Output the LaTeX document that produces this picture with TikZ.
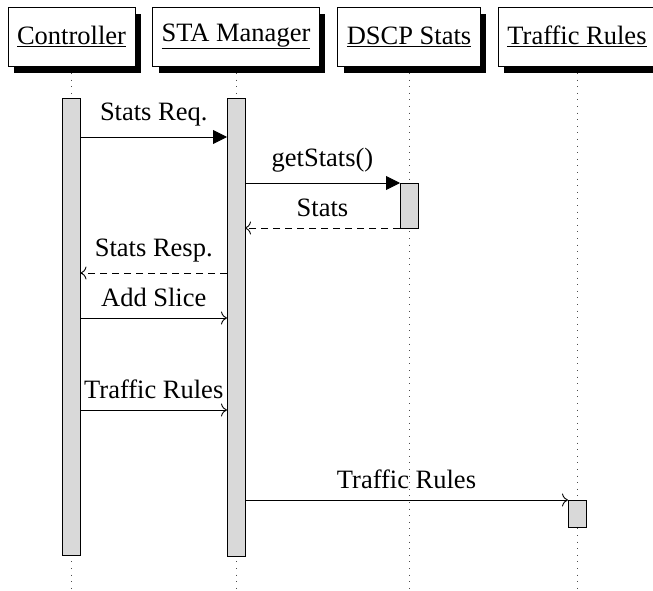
\documentclass[tikz,border=0pt]{standalone}
\usepackage{fontspec}
\setmainfont{Liberation Serif}
\usetikzlibrary{arrows.meta,shadows}
\begin{document}
\begin{tikzpicture}[x=1pt,y=-1pt,
  every node/.style={font=\fontsize{26.5}{30}\selectfont},
  hdr/.style={draw, fill=white, line width=0.8pt, minimum height=59pt, inner xsep=9pt,
    drop shadow={opacity=1, fill=black, shadow xshift=6pt, shadow yshift=-7pt}},
  life/.style={line width=0.8pt, black!70, dash pattern=on 0.8pt off 5.8pt},
  bar/.style={draw, fill=gray!30, line width=0.9pt, minimum width=18pt, inner sep=0pt, outer sep=0pt, anchor=north},
  call/.style={line width=0.9pt, -{Triangle[length=14pt,width=14pt]}},
  msg/.style={line width=0.9pt, -{To[length=6pt,width=13pt]}},
  ret/.style={msg, dash pattern=on 7pt off 5pt},
  lbl/.style={anchor=south, inner sep=0pt, yshift=10.5pt}
]
\useasboundingbox (0,0) rectangle (653,591);
% headers
\node[hdr] (ctl)  at (71.5,36.5) {\underline{Controller}};
\node[hdr] (sta)  at (236,36.5)  {\underline{STA Manager}};
\node[hdr] (dscp) at (409,36.5)  {\underline{DSCP Stats}};
\node[hdr] (tr)   at (577,36.5)  {\underline{Traffic Rules}};
% lifelines
\draw[life] (ctl.south |- 0,73)  -- (ctl.south |- 0,591);
\draw[life] (sta.south |- 0,73)  -- (sta.south |- 0,591);
\draw[life] (dscp.south |- 0,73) -- (dscp.south |- 0,591);
\draw[life] (tr.south |- 0,73)   -- (tr.south |- 0,591);
% activation bars
\node[bar, minimum height=457pt] (ctlbar)  at (ctl.south |- 0,98)  {};
\node[bar, minimum height=458pt] (stabar)  at (sta.south |- 0,98)  {};
\node[bar, minimum height=45pt]  (dscpbar) at (dscp.south |- 0,183) {};
\node[bar, minimum height=27pt]  (trbar)   at (tr.south |- 0,500)  {};
% messages
\draw[call] (ctlbar.east |- 0,137) -- (stabar.west |- 0,137) node[midway, lbl] {Stats Req.};
\draw[call] (stabar.east |- dscpbar.north west) -- (dscpbar.north west) node[midway, lbl] {getStats()};
\draw[ret]  (dscpbar.south west) -- (stabar.east |- dscpbar.south west) node[midway, lbl] {Stats};
\draw[ret]  (stabar.west |- 0,273) -- (ctlbar.east |- 0,273) node[midway, lbl] {Stats Resp.};
\draw[msg]  (ctlbar.east |- 0,318) -- (stabar.west |- 0,318) node[midway, lbl] {Add Slice};
\draw[msg]  (ctlbar.east |- 0,410) -- (stabar.west |- 0,410) node[midway, lbl] {Traffic Rules};
\draw[msg]  (stabar.east |- trbar.north west) -- (trbar.north west) node[midway, lbl] {Traffic Rules};
\end{tikzpicture}
\end{document}
